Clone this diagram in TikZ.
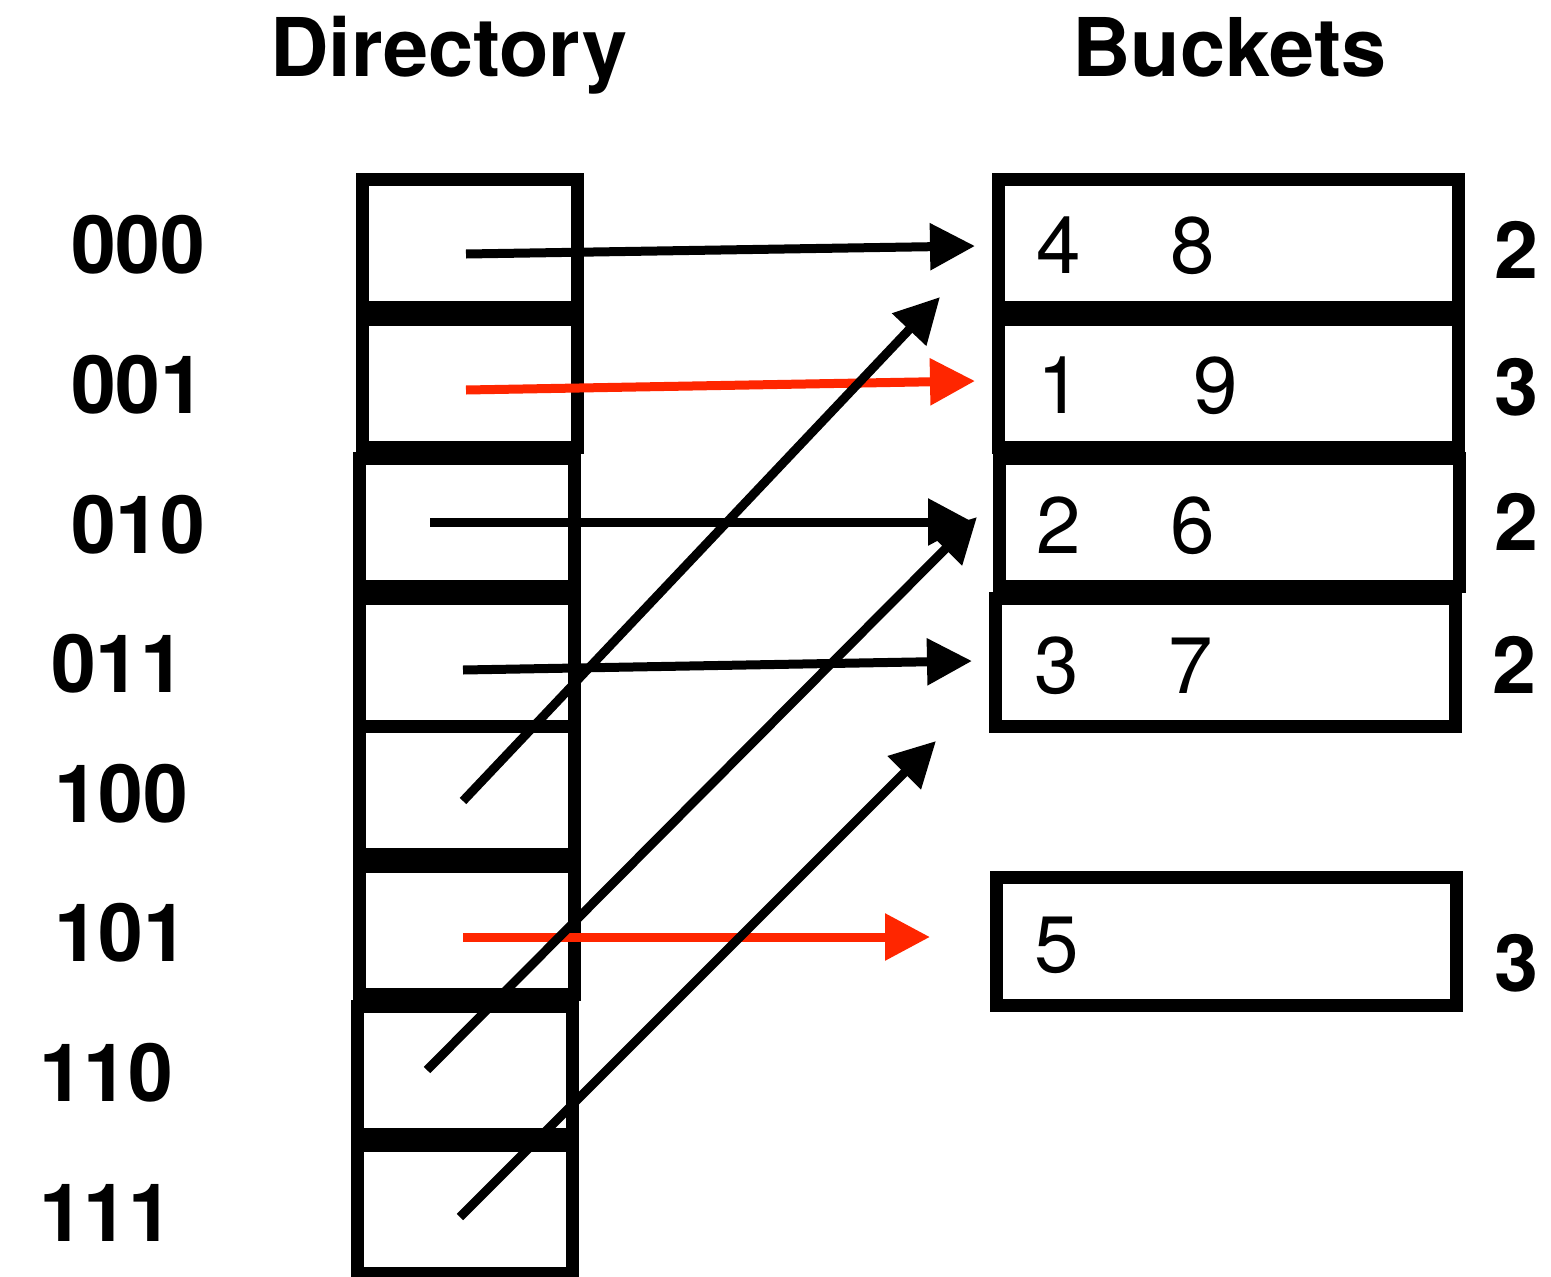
\documentclass[tikz,border=0pt]{standalone}
\usepackage{fontspec}
\setmainfont{TeX Gyre Heros}
\usetikzlibrary{arrows.meta}
\definecolor{ptrred}{RGB}{255,38,0}
\begin{document}
\begin{tikzpicture}[x=1pt,y=-1pt,
  cell/.style={draw=black, line width=13pt, rectangle, inner sep=0pt, outer sep=0pt,
    minimum width=215pt, minimum height=128pt},
  bucket/.style={draw=black, line width=13pt, rectangle, inner sep=0pt, outer sep=0pt,
    minimum width=460pt, minimum height=128pt},
  ptr/.style={line width=9pt, -{Triangle[length=45pt,width=45pt]}},
  redptr/.style={ptr, draw=ptrred, -{Triangle[length=45pt,width=45pt,fill=ptrred]}},
  title/.style={font=\fontsize{81}{90}\selectfont\bfseries, inner sep=0pt, anchor=base west},
  rowlab/.style={font=\fontsize{80.5}{90}\selectfont\bfseries, inner sep=0pt, anchor=base west},
  val/.style={font=\fontsize{80}{90}\selectfont, inner sep=0pt, anchor=base},
  depth/.style={font=\fontsize{79}{90}\selectfont\bfseries, inner sep=0pt, anchor=base}
]
\useasboundingbox (0,0) rectangle (1551,1277);
\fill[white] (0,0) rectangle (1551,1277);

% titles
\node[title] (tdir) at (270,76) {Directory};
\node[title] (tbuck) at (1072,76) {Buckets};

% directory cells
\node[cell] (d0) at (470,243.5) {};
\node[cell] (d1) at (470,383) {};
\node[cell] (d2) at (467,522.5) {};
\node[cell] (d3) at (467,662.5) {};
\node[cell] (d4) at (467,790.5) {};
\node[cell] (d5) at (467,930.5) {};
\node[cell] (d6) at (464.5,1070.5) {};
\node[cell] (d7) at (464.5,1209.5) {};

% row labels
\node[rowlab] (l0) at (71,273) {000};
\node[rowlab] (l1) at (71,413) {001};
\node[rowlab] (l2) at (71,553) {010};
\node[rowlab] (l3) at (51,692) {011};
\node[rowlab] (l4) at (54,822) {100};
\node[rowlab] (l5) at (54,961) {101};
\node[rowlab] (l6) at (39,1101) {110};
\node[rowlab] (l7) at (39,1241) {111};

% buckets
\node[bucket] (k0) at (1228.5,243.5) {};
\node[bucket] (k1) at (1228.5,383) {};
\node[bucket] (k2) at (1229,522.5) {};
\node[bucket] (k3) at (1225.5,662.5) {};
\node[bucket] (k4) at (1226,941.5) {};

% bucket values
\node[val] (v4) at (1059,273) {4};
\node[val] (v8) at (1193,273) {8};
\node[val] (v1) at (1060,413) {1};
\node[val] (v9) at (1215.5,413) {9};
\node[val] (v2) at (1058.5,553) {2};
\node[val] (v6) at (1193,553) {6};
\node[val] (v3) at (1056.5,693) {3};
\node[val] (v7) at (1190.5,693) {7};
\node[val] (v5) at (1057,972) {5};

% local depths
\node[depth] (p0) at (1516.5,278) {2};
\node[depth] (p1) at (1516.5,415) {3};
\node[depth] (p2) at (1516.5,550) {2};
\node[depth] (p3) at (1514,693) {2};
\node[depth] (p4) at (1516.5,991) {3};

% pointer coordinates
\coordinate (s0) at (466,254);  \coordinate (t0) at (975,246);
\coordinate (s1) at (466,390);  \coordinate (t1) at (975,381);
\coordinate (s2) at (430,522);  \coordinate (t2) at (973,522);
\coordinate (s3) at (463,670);  \coordinate (t3) at (972,661);
\coordinate (s4) at (463,801);  \coordinate (t4) at (940,297);
\coordinate (s5) at (463,937);  \coordinate (t5) at (930,937);
\coordinate (s6) at (427,1070); \coordinate (t6) at (977,517);
\coordinate (s7) at (460,1217); \coordinate (t7) at (936,741);

% pointers
\draw[redptr] (s1) -- (t1);
\draw[redptr] (s5) -- (t5);
\draw[ptr] (s0) -- (t0);
\draw[ptr] (s2) -- (t2);
\draw[ptr] (s3) -- (t3);
\draw[ptr] (s4) -- (t4);
\draw[ptr] (s6) -- (t6);
\draw[ptr] (s7) -- (t7);
\end{tikzpicture}
\end{document}
